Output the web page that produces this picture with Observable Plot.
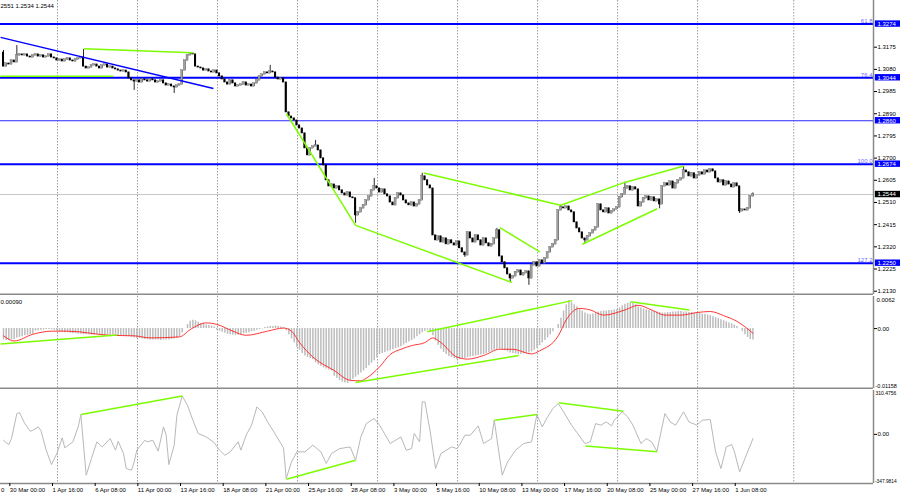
<!DOCTYPE html>
<html><head><meta charset="utf-8">
<script src="https://cdn.jsdelivr.net/npm/d3@7"></script>
<script src="https://cdn.jsdelivr.net/npm/@observablehq/plot@0.6"></script>
<style>
html,body{margin:0;padding:0;background:#fff;overflow:hidden;}
#wrap{position:relative;width:900px;height:499px;overflow:hidden;background:#fff;}
#wrap svg{position:absolute;left:0;}
</style></head><body><div id="wrap"></div>
<script>
// ---------- DATA (prices in 1/10000) ----------
const firstOpen = 13152;
const closes = [
13092,13105,13101,13118,13110,13140,13144,13140,13144,13135,
13131,13140,13144,13135,13140,13131,13135,13144,13131,13127,
13118,13122,13114,13122,13127,13118,13114,13122,13127,13131,
13092,13084,13088,13097,13101,13092,13084,13097,13101,13088,
13092,13084,13080,13075,13071,13075,13067,13041,13033,13028,
13033,13024,13037,13033,13028,13037,13033,13024,13028,13033,
13020,13011,13015,13007,13003,13011,13015,13075,13118,13140,
13148,13144,13092,13088,13084,13075,13080,13071,13067,13075,
13063,13050,13037,13024,13015,13033,13020,13007,13011,13015,
13024,13011,13015,13007,13020,13033,13050,13058,13067,13063,
13071,13067,13045,13037,13041,13024,12896,12878,12870,12861,
12840,12827,12806,12742,12712,12742,12750,12754,12733,12699,
12669,12605,12579,12587,12570,12579,12562,12549,12540,12553,
12532,12528,12455,12468,12485,12498,12519,12536,12562,12579,
12570,12553,12566,12545,12536,12510,12498,12528,12549,12540,
12519,12506,12498,12510,12493,12502,12519,12622,12605,12583,
12570,12369,12348,12365,12339,12356,12331,12348,12335,12326,
12343,12314,12296,12284,12382,12356,12339,12369,12348,12326,
12356,12335,12322,12331,12356,12391,12279,12254,12228,12202,
12185,12194,12211,12219,12198,12207,12215,12185,12241,12254,
12236,12262,12249,12271,12296,12318,12331,12348,12476,12489,
12485,12493,12476,12468,12425,12399,12382,12356,12348,12365,
12378,12391,12403,12502,12476,12468,12485,12463,12472,12480,
12489,12532,12545,12570,12579,12562,12575,12566,12493,12510,
12528,12536,12519,12532,12515,12523,12502,12579,12592,12583,
12600,12570,12592,12605,12613,12647,12639,12622,12635,12613,
12626,12639,12630,12647,12639,12652,12643,12613,12596,12605,
12583,12600,12587,12575,12592,12579,12472,12480,12476,12485,
12537,12544];
const wickHighs = [[0,13161],[5,13182],[30,13165],[70,13152],[100,13097],[117,12776],[139,12613],[157,12635],[185,12399],[209,12498],[233,12597],[255,12665],[281,12551]];
const wickLows = [[49,12990],[64,12977],[132,12421],[173,12275],[190,12168],[197,12155],[218,12331],[246,12483],[276,12463],[281,12534]];

const priceTicks = [1.3175,1.3080,1.2985,1.2890,1.2795,1.2700,1.2605,1.2510,1.2415,1.2320,1.2225,1.2130];
const levelPrices = [1.3274,1.3044,1.2860,1.2674,1.2250];
const levelWidths = [2,2,1,2,2];
const levelNames = ["61.8","76.4","","100.0","127.2"];
const bidPrice = 1.2544;
const headerText = "2551 1.2534 1.2544";

const blueTrend = [[-1.1,1.3217,78.7,1.2998]];
const greenMain = [[-1.1,1.3051,41.2,1.3051],[30.1,1.3168,71.1,1.3151],[106.1,1.2890,132,1.2412],[132,1.2412,190.7,1.2167],
  [157.6,1.2636,208.9,1.2498],[186.1,1.2402,201.1,1.2298],[208.9,1.2498,233.2,1.2597],[233.2,1.2597,255.1,1.2666],[217,1.2331,245.1,1.2483]];

// MACD (1/10000)
const macdHist = [
-22,-23,-23,-22,-21,
-18,-17,-16,-14,-13,-12,-11,
-5,-4,-3,-3,-2,-2,-2,-3,-4,
-6,-7,-8,-8,-9,-10,-10,-11,-11,-12,-12,-12,-13,-13,-12,-12,-13,-13,-12,-13,
-12,-13,-14,-14,-15,-16,-16,-17,-18,-19,
-19,-20,-21,-21,-22,-22,-22,-22,-23,-22,-22,-22,-21,-20,-19,-16,
-8,0,8,14,
16,15,12,
10,9,7,6,5,3,
-3,-5,-7,-9,-11,-12,-13,-13,-13,-12,
-10,-9,-8,-6,-5,-3,-2,-1,
2,3,4,4,5,4,3,2,
-4,-12,-20,-28,
-36,-42,-48,-53,-56,-58,-60,
-66,-70,-73,-76,-78,-80,-82,
-92,-96,-100,-103,-105,-106,
-102,-98,-94,-90,-86,-82,
-77,-72,-67,-62,-57,
-50,-48,-46,-44,
-43,-41,-39,-37,-35,
-32,-29,-26,-23,-20,-16,-12,-8,
-5,-3,-6,
-14,-24,-32,-40,-46,-50,-54,-56,
-58,-60,-60,-59,-58,
-56,-55,-54,-53,-52,-51,-50,
-48,-46,-44,-42,-41,-40,-41,-43,-45,-47,
-48,-49,-50,-50,-49,-48,-47,
-45,-42,-38,-33,-28,-23,-18,
-12,-6,0,8,
20,34,46,54,
50,46,42,38,34,
30,28,27,28,30,
32,33,34,34,35,35,36,37,40,44,
47,49,50,49,46,
42,40,38,36,35,34,33,32,31,30,
30,31,31,32,32,33,33,32,32,31,
31,30,30,29,28,27,26,25,
23,21,19,17,15,13,11,
9,7,4,0,
-6,-12,-17,-21,-22];
const macdSignal = [[0,-14],[4,-24],[11,-11],[18,-5],[24,-5],[40,-13],[49,-14],[55,-18],[66,-16],[70,-2],[76,11],[80,8],[86,-5],[91,-13],[99,-5],[105,1],[108,-5],[111,-27],[116,-55],[124,-81],[130,-100],[134,-101],[136,-96],[141,-74],[145,-50],[149,-40],[153,-33],[158,-27],[161,-18],[164,-27],[170,-55],[174,-59],[180,-52],[186,-40],[191,-40],[198,-49],[201,-43],[208,-14],[211,17],[216,39],[220,36],[225,26],[233,36],[238,45],[243,36],[248,26],[254,26],[260,31],[265,33],[270,25],[275,14],[281,-9]];
const MACD_MAX = 0.0062, MACD_MIN = -0.01158;
const macdLabel = "0.00090";
const greenMacd = [[-1.1,-0.0030,42.6,-0.00123],[132,-0.0104,193.2,-0.0052],[158.9,-0.0006,213.2,0.0054],[235.1,0.0052,257.2,0.0036]];

// CCI
const cciPts = [[0,-42],[1,-58],[2,-72],[3,-30],[5,147],[6,154],[8,76],[10,22],[11,29],[13,53],[14,29],[16,-112],[18,-214],[20,-136],[22,-25],[23,-96],[26,-53],[28,53],[29,140],[31,-289],[33,-171],[35,-53],[37,-89],[40,-30],[42,-112],[43,-49],[45,-136],[46,-242],[48,-254],[49,-195],[50,-112],[53,-42],[54,-53],[56,-42],[58,-119],[60,53],[61,-6],[62,-214],[64,-77],[65,135],[67,272],[69,206],[71,100],[73,6],[76,-18],[79,-58],[81,-112],[83,-148],[85,-124],[88,-53],[89,-112],[91,-6],[93,65],[95,194],[97,159],[99,88],[101,29],[105,-96],[106,-313],[108,-195],[110,-124],[113,-124],[116,-77],[119,-124],[121,-206],[123,-136],[126,-101],[130,-89],[132,-183],[134,-18],[136,76],[139,112],[141,65],[145,-65],
[149,-18],[151,-112],[153,-101],[154,6],[156,-53],[157,230],[158,230],[160,17],[162,-242],[164,-136],[168,-89],[170,-101],[171,-77],[173,-6],[175,-6],[178,60],[180,-65],[183,-30],[184,100],[187,-289],[189,-195],[192,-112],[195,-65],[198,-53],[200,140],[202,53],[204,124],[206,183],[208,218],[210,159],[213,65],[218,-65],[220,-53],[222,76],[224,65],[226,88],[228,60],[229,100],[232,159],[234,124],[236,65],[239,-65],[241,-30],[243,-53],[245,-119],[248,147],[250,88],[252,65],[255,159],[257,88],[260,65],[262,100],[265,105],[267,-124],[269,-242],[271,-89],[273,-72],[274,-119],[276,-266],[278,-171],[281,-30]];
const CCI_MAX = 310.4756, CCI_MIN = -347.9814;
const greenCci = [[29.1,140,67,272],[106.1,-318,132,-183],[184.1,100,200.1,140],[208.2,223,232.4,164],[218.2,-82,245.1,-124]];

// time axis
const timeBars = [2,18,34,50,66,82,98,114,130,146,162,178,194,210,226,242,258,274];
const timeLabels = ["30 Mar 00:00","1 Apr 16:00","6 Apr 08:00","11 Apr 00:00","13 Apr 16:00","18 Apr 08:00","21 Apr 00:00","25 Apr 16:00","28 Apr 08:00","3 May 00:00","5 May 16:00","10 May 08:00","13 May 00:00","17 May 16:00","20 May 08:00","25 May 00:00","27 May 16:00","1 Jun 08:00"];
const prevLabelTail = "0";   // visible tail of the label that starts left of the window
const gridBars = [20.25,50.25,80.25,110.25,140.25,170.25,200.25,230.25,260.25,296.3];

// ---------- BUILD ----------
const X_DOMAIN = [-1.125, 326.2];
const XR = X_DOMAIN[1];
const Y_MIN = 1.21159, Y_MAX = 1.3375;
const hiMap = new Map(wickHighs), loMap = new Map(wickLows);
const candles = closes.map((c,i)=>{
  const o = i===0 ? firstOpen : closes[i-1];
  const h = Math.max(o,c,hiMap.get(i) ?? -Infinity);
  const l = Math.min(o,c,loMap.get(i) ?? Infinity);
  return {i, o:o/1e4, c:c/1e4, h:h/1e4, l:l/1e4};
});
const levels = levelPrices.map((p,k)=>({p, w:levelWidths[k], name:levelNames[k]}));
const toSeg = a => a.map(([b1,v1,b2,v2])=>({b1,v1,b2,v2}));
const fmt4 = d3.format(".4f");
const STYLE = {fontFamily:"'Liberation Sans', Arial, sans-serif", fontSize:"6px", background:"transparent"};
const GRID = Plot.ruleX(gridBars, {stroke:"#9c9c9c", strokeDasharray:"1.5,1.5", strokeWidth:1});
const BLUE = "#0000ff", GREEN = "#7CFC00", BORDER = "#8a8a8a";

const main = Plot.plot({
  width:900, height:295, marginLeft:0, marginRight:27, marginTop:0, marginBottom:1,
  x:{domain:X_DOMAIN, axis:null}, y:{domain:[Y_MIN,Y_MAX]}, style:STYLE,
  marks:[
    GRID,
    Plot.ruleY([bidPrice], {stroke:"#c8c8c8", strokeWidth:1}),
    Plot.ruleY(levels.filter(d=>d.w===2), {y:"p", stroke:BLUE, strokeWidth:2}),
    Plot.ruleY(levels.filter(d=>d.w===1), {y:"p", stroke:"#2a2aff", strokeWidth:1}),
    Plot.ruleX(candles, {x:"i", y1:"l", y2:"h", stroke:"#111", strokeWidth:0.9}),
    Plot.rect(candles.filter(d=>d.c>=d.o), {x1:d=>d.i-0.38, x2:d=>d.i+0.38, y1:"o", y2:"c", fill:"#a2a2a2", stroke:"#444", strokeWidth:0.3, insetTop:-0.4, insetBottom:-0.4}),
    Plot.rect(candles.filter(d=>d.c<d.o), {x1:d=>d.i-0.38, x2:d=>d.i+0.38, y1:"o", y2:"c", fill:"#000", insetTop:-0.4, insetBottom:-0.4}),
    Plot.link(toSeg(blueTrend), {x1:"b1", y1:"v1", x2:"b2", y2:"v2", stroke:BLUE, strokeWidth:1.5}),
    Plot.link(toSeg(greenMain), {x1:"b1", y1:"v1", x2:"b2", y2:"v2", stroke:GREEN, strokeWidth:1.5}),
    Plot.text(levels.filter(d=>d.name), {x:()=>XR, y:"p", text:"name", textAnchor:"end", lineAnchor:"bottom", dx:-1, dy:-1, fill:"#6a6aff"}),
    Plot.ruleX([XR], {stroke:BORDER, strokeWidth:1.5}),
    Plot.ruleY([Y_MIN], {stroke:BORDER, strokeWidth:2}),
    Plot.axisY({anchor:"right", ticks:priceTicks, tickSize:3, tickPadding:1, tickFormat:fmt4}),
    Plot.rect(levels, {x1:()=>XR+0.7, x2:()=>XR+12, y1:d=>d.p-0.00137, y2:d=>d.p+0.00137, fill:BLUE}),
    Plot.rect([bidPrice], {x1:()=>XR+0.7, x2:()=>XR+12, y1:d=>d-0.00137, y2:d=>d+0.00137, fill:"#000"}),
    Plot.text(levels, {x:()=>XR, y:"p", dx:4, textAnchor:"start", text:d=>fmt4(d.p), fill:"#fff"}),
    Plot.text([bidPrice], {x:()=>XR, y:d=>d, dx:4, textAnchor:"start", text:d=>fmt4(d), fill:"#fff"}),
    Plot.text([headerText], {frameAnchor:"top-left", text:d=>d, textAnchor:"start", lineAnchor:"top", dy:3.5, fill:"#000"})
  ]
});

const macdData = macdHist.map((v,i)=>({i, v:v/1e4}));
const sigData = macdSignal.map(([i,v])=>({i, v:v/1e4}));
const macd = Plot.plot({
  width:900, height:94, marginLeft:0, marginRight:27, marginTop:1, marginBottom:1,
  x:{domain:X_DOMAIN, axis:null}, y:{domain:[MACD_MIN, MACD_MAX]}, style:STYLE,
  marks:[
    GRID,
    Plot.ruleX(macdData, {x:"i", y1:()=>0, y2:"v", stroke:"#bcbcbc", strokeWidth:1.5}),
    Plot.line(sigData, {x:"i", y:"v", stroke:"#ff2020", strokeWidth:0.9, curve:"monotone-x"}),
    Plot.link(toSeg(greenMacd), {x1:"b1", y1:"v1", x2:"b2", y2:"v2", stroke:GREEN, strokeWidth:1.5}),
    Plot.ruleX([XR], {stroke:BORDER, strokeWidth:1.5}),
    Plot.ruleY([MACD_MIN], {stroke:BORDER, strokeWidth:2}),
    Plot.axisY({anchor:"right", ticks:[0], tickSize:3, tickPadding:1, tickFormat:()=>"0.00"}),
    Plot.text([MACD_MAX], {x:()=>XR, y:d=>d, dx:3, textAnchor:"start", lineAnchor:"top", dy:1, text:()=>"0.0062"}),
    Plot.text([MACD_MIN], {x:()=>XR, y:d=>d, dx:2, textAnchor:"start", lineAnchor:"bottom", dy:-1, fontSize:5.5, text:()=>"-0.01158"}),
    Plot.text([macdLabel], {frameAnchor:"top-left", text:d=>d, textAnchor:"start", lineAnchor:"top", dy:3, fill:"#000"})
  ]
});

const cciData = cciPts.map(([i,v])=>({i, v}));
const labelMap = new Map(timeBars.map((b,k)=>[b, timeLabels[k]]));
const cci = Plot.plot({
  width:900, height:110, marginLeft:0, marginRight:27, marginTop:1, marginBottom:16,
  x:{domain:X_DOMAIN}, y:{domain:[CCI_MIN, CCI_MAX]}, style:STYLE,
  marks:[
    GRID,
    Plot.line(cciData, {x:"i", y:"v", stroke:"#b8b8b8", strokeWidth:1}),
    Plot.link(toSeg(greenCci), {x1:"b1", y1:"v1", x2:"b2", y2:"v2", stroke:GREEN, strokeWidth:1.5}),
    Plot.ruleX([XR], {stroke:BORDER, strokeWidth:1.5}),
    Plot.ruleY([CCI_MIN], {stroke:BORDER, strokeWidth:1.5}),
    Plot.axisY({anchor:"right", ticks:[0], tickSize:3, tickPadding:1, tickFormat:()=>"0.00"}),
    Plot.text([CCI_MAX], {x:()=>XR, y:d=>d, dx:2, textAnchor:"start", lineAnchor:"top", dy:1, fontSize:5, text:()=>"310.4756"}),
    Plot.text([CCI_MIN], {x:()=>XR, y:d=>d, dx:1.5, textAnchor:"start", lineAnchor:"bottom", dy:-1, fontSize:4.8, text:()=>"-347.9814"}),
    Plot.axisX({anchor:"bottom", ticks:timeBars, tickSize:3, tickPadding:1, tickFormat:d=>labelMap.get(d), textAnchor:"start", dx:1, label:null}),
    Plot.text([prevLabelTail], {frameAnchor:"bottom-left", text:d=>d, textAnchor:"start", lineAnchor:"top", dx:0.5, dy:4})
  ]
});

const wrap = document.getElementById("wrap");
[[main,0],[macd,295],[cci,389]].forEach(([svg,top])=>{ svg.style.top = top+"px"; wrap.appendChild(svg); });
</script>
</body></html>
